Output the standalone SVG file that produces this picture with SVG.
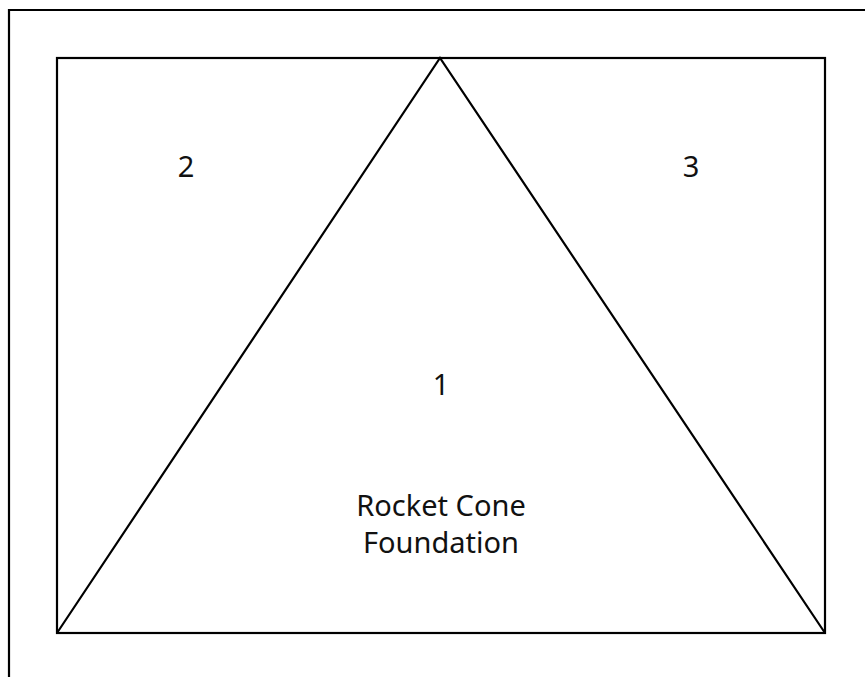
<svg xmlns="http://www.w3.org/2000/svg" width="865" height="677" viewBox="0 0 865 677">
<style>
.ln{fill:none;stroke:#000;stroke-width:2.2;stroke-linejoin:miter}
.lb{font-family:"Noto Sans","Open Sans","Liberation Sans",sans-serif;font-size:29px;fill:#111;text-anchor:middle}
</style>
<rect width="865" height="677" fill="#fff"/>
<g id="frame"><path class="ln" d="M9,677 V10 H866"/></g>
<g id="box"><rect class="ln" x="57" y="58" width="768" height="575"/></g>
<g id="region1"><path class="ln" d="M57,633 L440,58 L825,633"/>
<text class="lb" x="441" y="395">1</text>
<text class="lb" x="441" y="516">Rocket Cone</text>
<text class="lb" x="441" y="553">Foundation</text></g>
<g id="region2"><text class="lb" x="186" y="177">2</text></g>
<g id="region3"><text class="lb" x="691" y="177">3</text></g>
</svg>
